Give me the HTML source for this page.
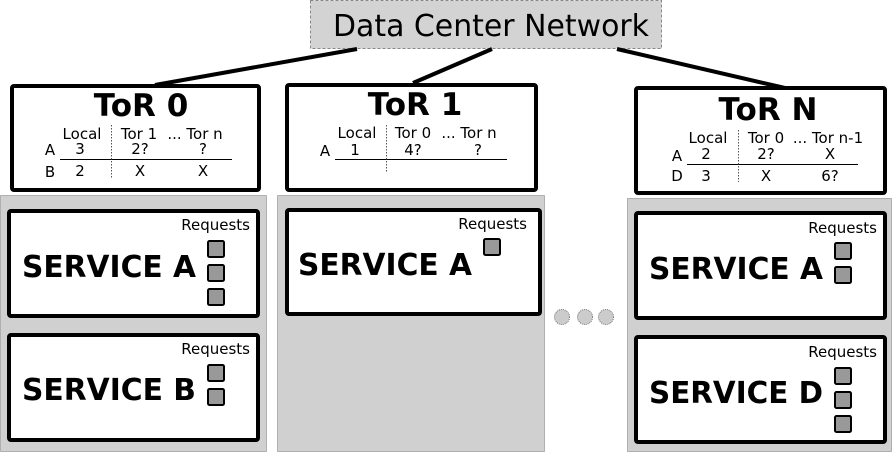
<!DOCTYPE html>
<html><head><style>body{margin:0;background:#fff}svg{display:block}text{font-family:"DejaVu Sans","Liberation Sans",sans-serif}</style></head>
<body>
<svg width="894" height="454" viewBox="0 0 894 454" xmlns="http://www.w3.org/2000/svg">
<rect x="0.5" y="195.5" width="266" height="256" fill="#d0d0d0" stroke="#777" stroke-dasharray="1,1"/>
<rect x="277.5" y="195.5" width="267" height="256" fill="#d0d0d0" stroke="#777" stroke-dasharray="1,1"/>
<rect x="627.5" y="198.5" width="264" height="253" fill="#d0d0d0" stroke="#777" stroke-dasharray="1,1"/>
<rect x="310.5" y="0.5" width="351" height="48" fill="#d3d3d3" stroke="#888" stroke-dasharray="3,2"/>
<text x="491" y="36" font-size="30" text-anchor="middle" textLength="316" lengthAdjust="spacingAndGlyphs">Data Center Network</text>
<g stroke="#000" stroke-width="4">
<line x1="357" y1="49" x2="155" y2="85"/>
<line x1="492" y1="49" x2="413" y2="83"/>
<line x1="617" y1="49" x2="785" y2="88"/>
</g>
<g fill="#fff" stroke="#000" stroke-width="4">
<rect x="12" y="86" width="247" height="104" rx="2"/>
<rect x="287" y="85" width="249" height="105" rx="2"/>
<rect x="636" y="88" width="249" height="105" rx="2"/>
</g>
<g font-weight="bold" font-size="31" text-anchor="middle">
<text x="141" y="116">ToR 0</text>
<text x="415" y="115">ToR 1</text>
<text x="768" y="120">ToR N</text>
</g>
<g font-size="15" text-anchor="middle">
<text x="82" y="139">Local</text><text x="139" y="139">Tor 1</text><text x="195" y="139">... Tor n</text>
<text x="50" y="155">A</text><text x="80" y="154">3</text><text x="140" y="154">2?</text><text x="203" y="154">?</text>
<text x="50" y="177">B</text><text x="80" y="176">2</text><text x="140" y="176">X</text><text x="203" y="176">X</text>
<text x="357" y="138">Local</text><text x="413" y="138">Tor 0</text><text x="469" y="138">... Tor n</text>
<text x="325" y="156">A</text><text x="355" y="155">1</text><text x="413" y="155">4?</text><text x="478" y="155">?</text>
<text x="708" y="143">Local</text><text x="766" y="143">Tor 0</text><text x="828" y="143">... Tor n-1</text>
<text x="677" y="161">A</text><text x="706" y="159">2</text><text x="766" y="159">2?</text><text x="830" y="159">X</text>
<text x="677" y="181">D</text><text x="706" y="181">3</text><text x="766" y="181">X</text><text x="830" y="181">6?</text>
</g>
<g stroke="#000" stroke-width="1">
<line x1="60" y1="159.5" x2="232" y2="159.5"/>
<line x1="335" y1="159.5" x2="507" y2="159.5"/>
<line x1="687" y1="164.5" x2="858" y2="164.5"/>
</g>
<g stroke="#555" stroke-width="1" stroke-dasharray="1.5,1.5">
<line x1="111.5" y1="125" x2="111.5" y2="178"/>
<line x1="386.5" y1="125" x2="386.5" y2="172"/>
<line x1="738.5" y1="130" x2="738.5" y2="182"/>
</g>
<g fill="#fff" stroke="#000" stroke-width="4">
<rect x="9" y="211" width="249" height="105" rx="2"/>
<rect x="9" y="335" width="249" height="105" rx="2"/>
<rect x="287" y="210" width="253" height="104" rx="2"/>
<rect x="636" y="213" width="249" height="105" rx="2"/>
<rect x="636" y="337" width="249" height="105" rx="2"/>
</g>
<g font-weight="bold" font-size="30">
<text x="22" y="277" textLength="174" lengthAdjust="spacingAndGlyphs">SERVICE A</text>
<text x="22" y="400" textLength="174" lengthAdjust="spacingAndGlyphs">SERVICE B</text>
<text x="298" y="275" textLength="174" lengthAdjust="spacingAndGlyphs">SERVICE A</text>
<text x="649" y="279" textLength="174" lengthAdjust="spacingAndGlyphs">SERVICE A</text>
<text x="649" y="403" textLength="174" lengthAdjust="spacingAndGlyphs">SERVICE D</text>
</g>
<g font-size="15" text-anchor="end">
<text x="250" y="230">Requests</text>
<text x="250" y="354">Requests</text>
<text x="527" y="229">Requests</text>
<text x="877" y="233">Requests</text>
<text x="877" y="357">Requests</text>
</g>
<g fill="#999" stroke="#000" stroke-width="2">
<rect x="208" y="241" width="16" height="16" rx="1.5"/>
<rect x="208" y="265" width="16" height="16" rx="1.5"/>
<rect x="208" y="289" width="16" height="16" rx="1.5"/>
<rect x="208" y="365" width="16" height="16" rx="1.5"/>
<rect x="208" y="389" width="16" height="16" rx="1.5"/>
<rect x="484" y="239" width="16" height="16" rx="1.5"/>
<rect x="835" y="243" width="16" height="16" rx="1.5"/>
<rect x="835" y="267" width="16" height="16" rx="1.5"/>
<rect x="835" y="368" width="16" height="16" rx="1.5"/>
<rect x="835" y="392" width="16" height="16" rx="1.5"/>
<rect x="835" y="416" width="16" height="16" rx="1.5"/>
</g>
<g fill="#ccc" stroke="#777" stroke-dasharray="1,1">
<circle cx="562" cy="317" r="7.5"/>
<circle cx="585" cy="317" r="7.5"/>
<circle cx="606" cy="317" r="7.5"/>
</g>
</svg>
</body></html>
